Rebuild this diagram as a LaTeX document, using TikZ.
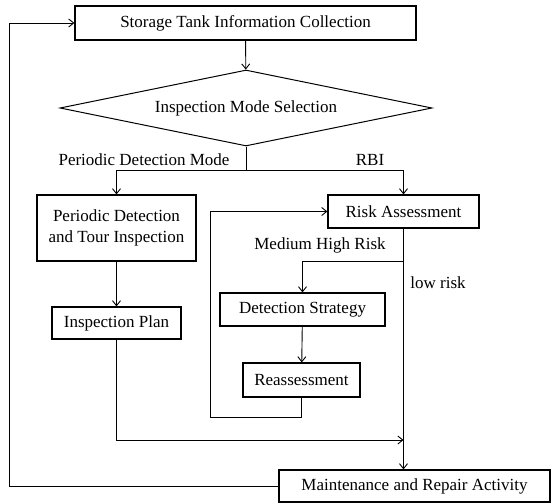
\documentclass[tikz,border=0pt]{standalone}
\usepackage{fontspec}
\setmainfont{Liberation Serif}
\usetikzlibrary{shapes.geometric,arrows.meta}

\tikzset{
  stepbox/.style={draw, line width=1.2pt, inner sep=0pt, align=center, font=\fontsize{17}{21}\selectfont},
  choice/.style={draw, diamond, line width=1pt, inner sep=0pt, aspect=4.9, font=\fontsize{17}{21}\selectfont},
  tag/.style={font=\fontsize{17}{21}\selectfont, inner sep=0pt},
  flow/.style={line width=0.9pt, -{Straight Barb[length=5pt,width=8pt]}},
  link/.style={line width=0.9pt}
}

\begin{document}
\begin{tikzpicture}[x=1pt, y=-1pt]
  \useasboundingbox (0,0) rectangle (551,503);
  % boxes
  \node[stepbox, minimum width=341pt, minimum height=34pt] (collect) at (245.5,23) {Storage Tank Information Collection};
  \node[choice, minimum width=372pt, minimum height=76pt] (mode) at (246,108) {Inspection Mode Selection};
  \node[stepbox, minimum width=159pt, minimum height=66pt] (periodic) at (116.5,228) {Periodic Detection\\and Tour Inspection};
  \node[stepbox, minimum width=151pt, minimum height=33pt] (risk) at (403.5,211.5) {Risk Assessment};
  \node[stepbox, minimum width=165pt, minimum height=33pt] (strategy) at (302.5,309.5) {Detection Strategy};
  \node[stepbox, minimum width=129pt, minimum height=32pt] (plan) at (116.5,323) {Inspection Plan};
  \node[stepbox, minimum width=117pt, minimum height=34pt] (reassess) at (301.5,380) {Reassessment};
  \node[stepbox, minimum width=271pt, minimum height=32pt] (repair) at (414.5,486) {Maintenance and Repair Activity};
  % labels
  \node[tag] (pdm) at (144,160) {Periodic Detection Mode};
  \node[tag] (rbi) at (370,160) {RBI};
  \node[tag] (mhr) at (320,245) {Medium High Risk};
  \node[tag] (low) at (438,283) {low risk};
  % helper points
  \coordinate (fork) at (246,170);
  \coordinate (split) at (403.5,261);
  \coordinate (loop) at (210,417);
  \coordinate (merge) at (403.5,440);
  \coordinate (back) at (9,0);
  % connectors
  \draw[flow] (collect) -- (mode);
  \draw[link] (mode.south) -- (fork);
  \draw[flow] (fork) -| (periodic.north);
  \draw[flow] (fork) -| (risk.north);
  \draw[flow] (periodic) -- (plan);
  \draw[flow] (split) -| (strategy.north);
  \draw[flow] (risk.south) -- (risk.south |- repair.north);
  \draw[flow] (strategy) -- (reassess);
  \draw[flow] (reassess.south) |- (loop) |- (risk.west);
  \draw[flow] (plan.south) |- (merge);
  \draw[flow] (repair.west) -- (repair.west -| back) |- (collect.west);
\end{tikzpicture}
\end{document}
